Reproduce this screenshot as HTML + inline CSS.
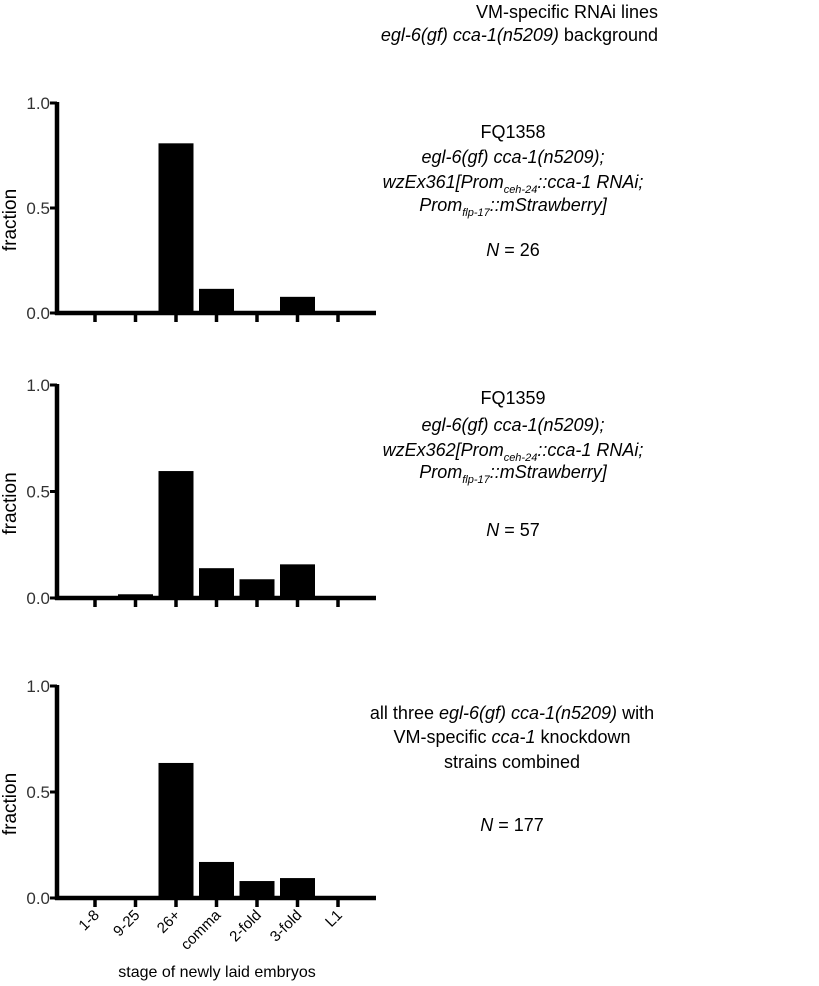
<!DOCTYPE html>
<html><head><meta charset="utf-8"><style>
body{margin:0;background:#fff;width:819px;height:981px;overflow:hidden}
svg{font-family:"Liberation Sans",Arial,sans-serif}
</style></head><body>
<svg id="c" width="819" height="981" viewBox="0 0 819 981">
<g font-size="18" text-anchor="end">
<text x="658" y="18">VM-specific RNAi lines</text>
<text x="658" y="41"><tspan font-style="italic">egl-6(gf) cca-1(n5209)</tspan> background</text>
</g>
<g font-size="18" text-anchor="middle">
<text x="513" y="138">FQ1358</text>
<text x="513" y="163" font-style="italic">egl-6(gf) cca-1(n5209);</text>
<text x="513" y="188" font-style="italic">wzEx361[Prom<tspan font-size="11" dy="5">ceh-24</tspan><tspan dy="-5">::cca-1 RNAi;</tspan></text>
<text x="513" y="211" font-style="italic">Prom<tspan font-size="11" dy="5">flp-17</tspan><tspan dy="-5">::mStrawberry]</tspan></text>
<text x="513" y="256"><tspan font-style="italic">N</tspan> = 26</text>
</g>
<g font-size="18" text-anchor="middle">
<text x="513" y="404">FQ1359</text>
<text x="513" y="431" font-style="italic">egl-6(gf) cca-1(n5209);</text>
<text x="513" y="456" font-style="italic">wzEx362[Prom<tspan font-size="11" dy="5">ceh-24</tspan><tspan dy="-5">::cca-1 RNAi;</tspan></text>
<text x="513" y="478" font-style="italic">Prom<tspan font-size="11" dy="5">flp-17</tspan><tspan dy="-5">::mStrawberry]</tspan></text>
<text x="513" y="536"><tspan font-style="italic">N</tspan> = 57</text>
</g>
<g font-size="18" text-anchor="middle">
<text x="512" y="719">all three <tspan font-style="italic">egl-6(gf) cca-1(n5209)</tspan> with</text>
<text x="512" y="743">VM-specific <tspan font-style="italic">cca-1</tspan> knockdown</text>
<text x="512" y="768">strains combined</text>
<text x="512" y="831"><tspan font-style="italic">N</tspan> = 177</text>
</g>
<text x="217" y="977" font-size="16" text-anchor="middle">stage of newly laid embryos</text>
<g id="plots"></g>
</svg>
<script>
const categories = ["1-8","9-25","26+","comma","2-fold","3-fold","L1"];
const panel1Values = [0, 0, 0.808, 0.115, 0, 0.077, 0];
const panel2Values = [0, 0.0175, 0.596, 0.14, 0.088, 0.158, 0];
const panel3Values = [0, 0, 0.637, 0.17, 0.08, 0.094, 0];
const yTickValues = [0, 0.5, 1.0];
const yTickLabels = ["0.0", "0.5", "1.0"];

const NS = "http://www.w3.org/2000/svg";
const root = document.getElementById("plots");
function mk(tag, attrs, parent){const e=document.createElementNS(NS,tag);for(const k in attrs)e.setAttribute(k,attrs[k]);parent.appendChild(e);return e;}
const axisX0 = 57, axisX1 = 376;
function xScale(i){ return 95 + i * 40.5; }
const panels = [
  {vals: panel1Values, top: 103, bottom: 313, lab: false},
  {vals: panel2Values, top: 385, bottom: 598, lab: false},
  {vals: panel3Values, top: 686, bottom: 898, lab: true}
];
panels.forEach((p, pi) => {
  const g = mk("g", {}, root);
  
  
  const y = v => p.bottom - v * (p.bottom - p.top);
  p.vals.forEach((v, i) => {
    if (v <= 0) return;
    const r = mk("rect", {x: xScale(i) - 17.5, y: y(v), width: 35, height: p.bottom - y(v), fill: "#000"}, g);
    
    
  });
  const ya = mk("line", {x1: axisX0, x2: axisX0, y1: p.top - 1, y2: p.bottom + 2, stroke: "#000", "stroke-width": 4.5}, g);
  
  
  const xa = mk("line", {x1: axisX0 - 2, x2: axisX1, y1: p.bottom, y2: p.bottom, stroke: "#000", "stroke-width": 4.5}, g);
  
  
  yTickValues.forEach((v, k) => {
    mk("line", {x1: 50, x2: axisX0, y1: y(v), y2: y(v), stroke: "#000", "stroke-width": 3}, g);
    const t = mk("text", {x: 50, y: y(v) + 6, "font-size": 17, "text-anchor": "end", fill: "#333"}, g);
    t.textContent = yTickLabels[k];
    
    
  });
  categories.forEach((c, i) => {
    mk("line", {x1: xScale(i), x2: xScale(i), y1: p.bottom, y2: p.bottom + 9, stroke: "#000", "stroke-width": 3.5}, g);
    if (p.lab) {
      const t = mk("text", {x: xScale(i) + 5, y: p.bottom + 18, "font-size": 15, "text-anchor": "end", transform: "rotate(-45 " + (xScale(i) + 5) + " " + (p.bottom + 18) + ")"}, g);
      t.textContent = c;
      
      
    }
  });
  const cy = (p.top + p.bottom) / 2 + 12;
  const yt = mk("text", {x: 16, y: cy, "font-size": 19, "text-anchor": "middle", transform: "rotate(-90 16 " + cy + ")"}, g);
  yt.textContent = "fraction";
  
  
});
</script>
</body></html>
